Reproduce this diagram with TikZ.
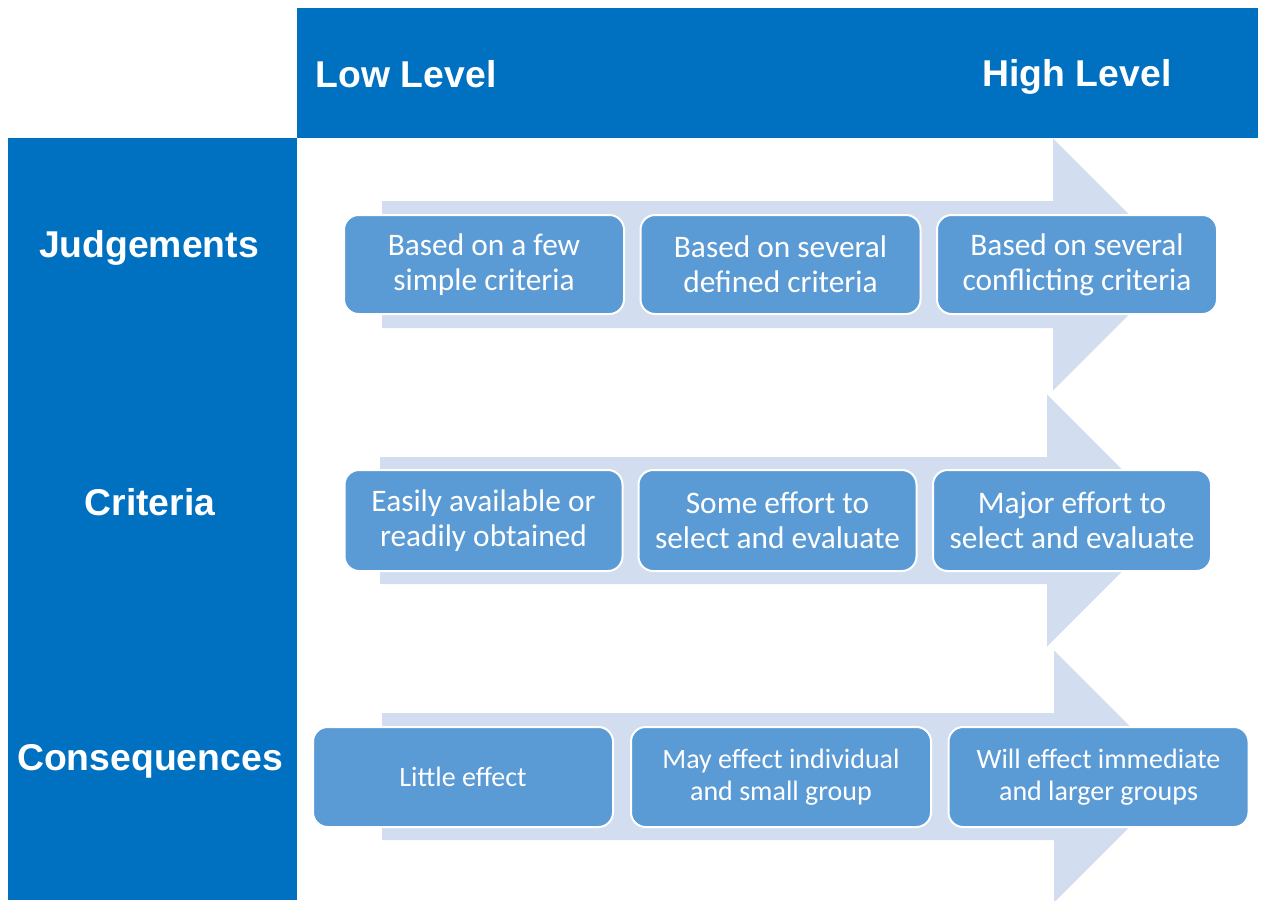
\documentclass[tikz,border=0pt]{standalone}
\usepackage{fontspec}
\setmainfont{Carlito}
\newfontfamily\headfont{Liberation Sans}

\definecolor{barblue}{RGB}{0,112,192}
\definecolor{boxblue}{RGB}{91,155,213}
\definecolor{arrowfill}{RGB}{210,222,239}

\tikzset{every picture/.style={line width=0.75pt}}
\tikzset{
	stagebox/.style={draw=white, line width=1.5pt, fill=boxblue, rounded corners=11pt,
		text=white, align=center, inner sep=0pt, font=\fontsize{23.5}{26}\selectfont},
	smallbox/.style={stagebox, font=\fontsize{21}{24}\selectfont},
	headtext/.style={text=white, anchor=base, font=\headfont\bfseries\fontsize{28}{32}\selectfont}}

\begin{document}
\begin{tikzpicture}[x=0.75pt,y=0.75pt,yscale=-1,xscale=1]
	\clip (0,0) rectangle (1270,900);

	%Shape: Rectangle [top bar]
	\fill [barblue] (297,8) rectangle (1258,137.5);
	%Shape: Rectangle [left column]
	\fill [barblue] (8,137.5) rectangle (297,900);

	%Right Arrow [judgements]
	\fill [arrowfill] (382,201) -- (1053,201) -- (1053,138.5) -- (1179,264.5) -- (1053,390.5) -- (1053,328) -- (382,328) -- cycle ;
	%Right Arrow [criteria]
	\fill [arrowfill] (380,457) -- (1047,457) -- (1047,394.5) -- (1173,520.5) -- (1047,646.5) -- (1047,584) -- (380,584) -- cycle ;
	%Right Arrow [consequences]
	\fill [arrowfill] (382,713) -- (1054,713) -- (1054,650.5) -- (1180,776.5) -- (1054,902.5) -- (1054,840) -- (382,840) -- cycle ;

	% Text Node
	\node (low) [headtext, anchor=base west] at (311,87) {Low Level};
	% Text Node
	\node (high) [headtext] at (1077,86) {High Level};
	% Text Node
	\node (judge) [headtext] at (149,257) {Judgements};
	% Text Node
	\node (crit) [headtext] at (150,515) {Criteria};
	% Text Node
	\node (cons) [headtext] at (150,770) {Consequences};

	% Rounded Rect row 1
	\node (j1) [stagebox, minimum width=210pt, minimum height=74.25pt] at (484,264.5) {Based on a few\\simple criteria};
	\node (j2) [stagebox, minimum width=210pt, minimum height=74.25pt] at (780.5,264.5) {Based on several\\defined criteria};
	\node (j3) [stagebox, minimum width=210pt, minimum height=74.25pt] at (1077,264.5) {Based on several\\conflicting criteria};

	% Rounded Rect row 2
	\node (c1) [stagebox, minimum width=208.5pt, minimum height=75.75pt] at (483.5,520.5) {Easily available or\\readily obtained};
	\node (c2) [stagebox, minimum width=208.5pt, minimum height=75.75pt] at (777.5,520.5) {Some effort to\\select and evaluate};
	\node (c3) [stagebox, minimum width=208.5pt, minimum height=75.75pt] at (1072,520.5) {Major effort to\\select and evaluate};

	% Rounded Rect row 3
	\node (q1) [smallbox, minimum width=225pt, minimum height=75pt] at (463,777) {Little effect};
	\node (q2) [smallbox, minimum width=225pt, minimum height=75pt] at (781,777) {May effect individual\\and small group};
	\node (q3) [smallbox, minimum width=225pt, minimum height=75pt] at (1098.5,777) {Will effect immediate\\and larger groups};

\end{tikzpicture}
\end{document}
